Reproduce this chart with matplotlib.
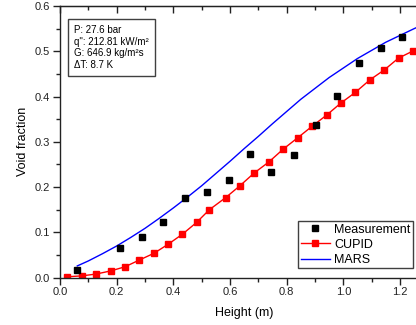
import matplotlib
matplotlib.use("Agg")
import matplotlib.pyplot as plt
from matplotlib.ticker import MultipleLocator, FormatStrFormatter

plt.rcParams["font.family"] = ["Liberation Sans", "DejaVu Sans"]

# measured void fraction
meas_h = [0.06, 0.212, 0.288, 0.365, 0.441, 0.518, 0.597, 0.671, 0.745, 0.825,
          0.902, 0.976, 1.054, 1.132, 1.208]
meas_a = [0.017, 0.066, 0.089, 0.124, 0.175, 0.190, 0.216, 0.273, 0.234, 0.272,
          0.337, 0.402, 0.475, 0.508, 0.532]

# CUPID prediction
cupid_h = [0.024, 0.076, 0.127, 0.179, 0.229, 0.280, 0.332, 0.382, 0.432, 0.482,
           0.527, 0.585, 0.635, 0.685, 0.738, 0.788, 0.839, 0.891, 0.941, 0.992,
           1.042, 1.094, 1.145, 1.195, 1.247]
cupid_a = [0.002, 0.004, 0.008, 0.015, 0.024, 0.039, 0.054, 0.074, 0.096, 0.122,
           0.150, 0.177, 0.203, 0.231, 0.256, 0.284, 0.309, 0.335, 0.359, 0.386,
           0.409, 0.437, 0.459, 0.485, 0.501]

# MARS prediction
mars_h = [0.061, 0.10, 0.15, 0.20, 0.25, 0.30, 0.35, 0.40, 0.45, 0.50, 0.55,
          0.60, 0.65, 0.70, 0.75, 0.80, 0.85, 0.90, 0.95, 1.00, 1.05, 1.10,
          1.15, 1.20, 1.25, 1.30]
mars_a = [0.026, 0.037, 0.053, 0.070, 0.089, 0.109, 0.131, 0.154, 0.178, 0.203,
          0.230, 0.257, 0.285, 0.312, 0.340, 0.367, 0.394, 0.418, 0.442, 0.463,
          0.484, 0.502, 0.520, 0.535, 0.550, 0.564]

info = ('P: 27.6 bar\n'
        'q": 212.81 kW/m\u00b2\n'
        'G: 646.9 kg/m\u00b2s\n'
        '\u0394T: 8.7 K')

fig = plt.figure(figsize=(4.16, 3.25), dpi=100)
# axes run past the right edge of the picture, as in the source figure
ax = fig.add_axes([60 / 416, 47.3 / 325, 368.3 / 416, 271.7 / 325])

ax.plot(meas_h, meas_a, ls="none", marker="s", ms=5, color="black",
        label="Measurement", zorder=3)
ax.plot(cupid_h, cupid_a, color="red", lw=1, marker="s", ms=5,
        label="CUPID", zorder=2)
ax.plot(mars_h, mars_a, color="blue", lw=1, label="MARS", zorder=2)

ax.set_xlim(0, 1.3)
ax.set_ylim(0, 0.6)
ax.xaxis.set_major_locator(MultipleLocator(0.2))
ax.xaxis.set_minor_locator(MultipleLocator(0.1))
ax.yaxis.set_major_locator(MultipleLocator(0.1))
ax.yaxis.set_minor_locator(MultipleLocator(0.05))
ax.xaxis.set_major_formatter(FormatStrFormatter("%.1f"))
ax.yaxis.set_major_formatter(FormatStrFormatter("%.1f"))
ax.tick_params(which="both", direction="out", labelsize=8, width=1,
               colors="#222222", top=False, right=False, pad=2)
ax.tick_params(which="major", length=5)
ax.tick_params(which="minor", length=3)
for s in ax.spines.values():
    s.set_linewidth(1)
    s.set_color("#222222")

top = ax.secondary_xaxis("top")
top.xaxis.set_major_locator(MultipleLocator(0.2))
top.xaxis.set_minor_locator(MultipleLocator(0.1))
top.tick_params(which="both", direction="in", labeltop=False, width=1,
                colors="#222222")
top.tick_params(which="major", length=5)
top.tick_params(which="minor", length=3)

ax.set_xlabel("Height (m)", fontsize=9, labelpad=7)
ax.set_ylabel("Void fraction", fontsize=9, labelpad=4)

ax.text(0.038, 0.93, info, transform=ax.transAxes, fontsize=7,
        va="top", ha="left", linespacing=1.2,
        bbox=dict(boxstyle="square,pad=0.6", fc="white", ec="#404040", lw=1))

leg = ax.legend(loc="lower left", bbox_to_anchor=(0.647, 0.034), fontsize=9,
                frameon=True, fancybox=False, edgecolor="#404040",
                framealpha=1, borderpad=0.2, labelspacing=0.25,
                handlelength=2.3, handletextpad=0.35, borderaxespad=0)
leg.get_frame().set_linewidth(1)

fig.savefig("out.png", dpi=100)
